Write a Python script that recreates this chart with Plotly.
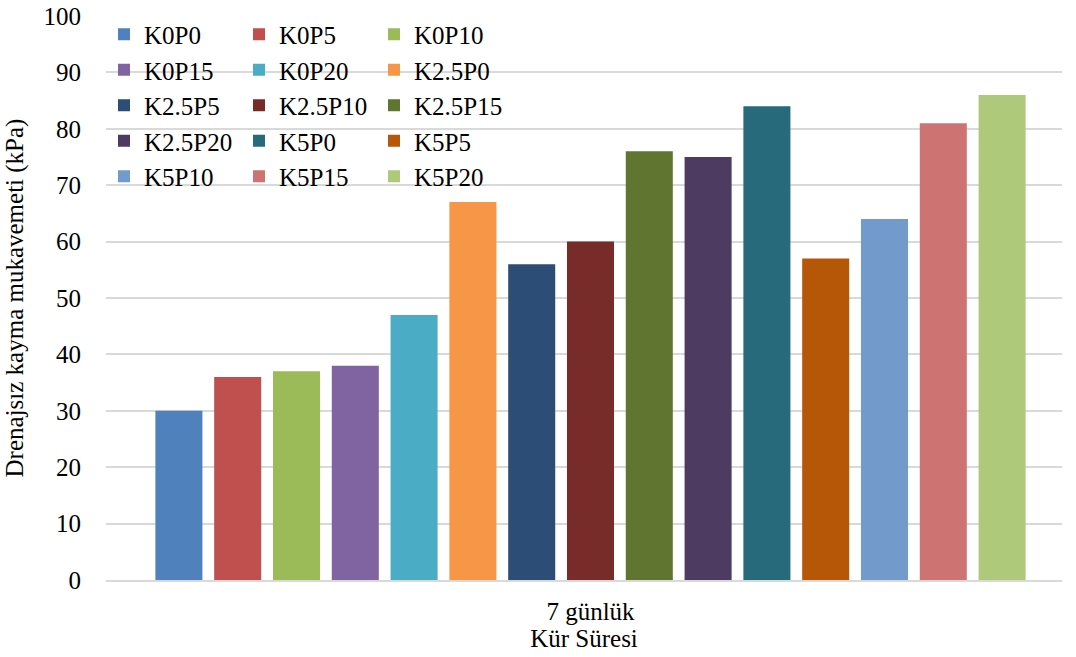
import plotly.graph_objects as go

categories = ["7 günlük"]
series_names = ["K0P0", "K0P5", "K0P10", "K0P15", "K0P20",
                "K2.5P0", "K2.5P5", "K2.5P10", "K2.5P15", "K2.5P20",
                "K5P0", "K5P5", "K5P10", "K5P15", "K5P20"]
series_values = [30, 36, 37, 38, 47, 67, 56, 60, 76, 75, 84, 57, 64, 81, 86]
colors = ["#4F81BD", "#C0504D", "#9BBB59", "#8064A2", "#4BACC6",
          "#F79646", "#2C4D75", "#772C2A", "#5F7530", "#4D3B62",
          "#276A7C", "#B65708", "#729ACA", "#CD7371", "#AFC97A"]
y_ticks = list(range(0, 101, 10))

FONT = "Liberation Serif, Times New Roman, serif"
FS = 25

fig = go.Figure()
legend_ids = ["legend", "legend2", "legend3"]
for i, (name, val, col) in enumerate(zip(series_names, series_values, colors)):
    fig.add_trace(go.Bar(
        x=categories, y=[val], name=name, marker=dict(color=col, line=dict(width=0)),
        legend=legend_ids[i % 3], legendgroup=name,
    ))

W, H = 1076, 657
ml, mr, mt, mb = 106, 14, 16, 77
pw = W - ml - mr
ph = H - mt - mb

def lx(px):
    return (px - ml) / pw

def ly(py):
    return 1 - (py - mt) / ph

leg_common = dict(font=dict(family=FONT, size=FS, color="black"),
                  bgcolor="rgba(0,0,0,0)", orientation="v", yanchor="top",
                  xanchor="left", tracegroupgap=0, itemwidth=30)

fig.update_layout(
    width=W, height=H,
    margin=dict(l=ml, r=mr, t=mt, b=mb, autoexpand=False),
    plot_bgcolor="white", paper_bgcolor="white",
    barmode="group", bargap=0.0774, bargroupgap=0.2,
    font=dict(family=FONT, size=FS, color="black"),
    legend=dict(x=lx(104), y=ly(11.5), **leg_common),
    legend2=dict(x=lx(239), y=ly(11.5), **leg_common),
    legend3=dict(x=lx(374), y=ly(11.5), **leg_common),
    xaxis=dict(
        title=dict(text="Kür Süresi", font=dict(family=FONT, size=FS), standoff=0),
        showline=True, linecolor="#d9d9d9", linewidth=1.5, automargin=False,
        range=[-0.5068, 0.4932],
        ticks="", tickfont=dict(family=FONT, size=FS), ticklabelstandoff=8,
    ),
    yaxis=dict(
        title=dict(text="Drenajsız kayma mukavemeti (kPa)", font=dict(family=FONT, size=FS), standoff=12),
        range=[0, 100], tickvals=y_ticks, showgrid=True, gridcolor="#d9d9d9", gridwidth=1.5,
        zeroline=False, ticks="", tickfont=dict(family=FONT, size=FS), automargin=False,
        ticklabelstandoff=24, ticklabeloverflow="allow",
    ),
)

fig.write_html("out.html", config={"displayModeBar": False},
               post_script="document.body.style.margin='0';")
